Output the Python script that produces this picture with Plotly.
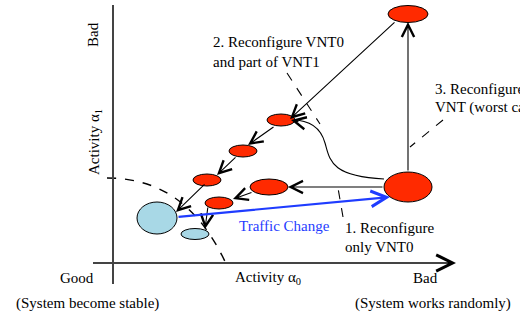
import plotly.graph_objects as go

# ---- diagram data (pixel-space coordinates of the schematic) ----
red_cx = [408, 408, 269, 219, 207, 243, 281]
red_cy = [14, 187, 187, 203, 180, 151, 120]
red_rx = [20, 24, 19, 14, 14, 14, 14]
red_ry = [8.5, 15, 8, 6, 6, 6, 6]

blue_cx = [157, 195]
blue_cy = [218, 234]
blue_rx = [20, 14]
blue_ry = [16, 5.5]

# solid black arrows: tail (x0,y0) -> head (x1,y1)
arr_x0 = [396, 408, 384, 253, 275, 237, 206, 208, 300]
arr_y0 = [21, 172, 187, 192, 126, 156, 183, 206, 122]
arr_x1 = [290, 408, 288, 233, 248, 217, 176, 205, 291]
arr_y1 = [119, 22, 187, 199, 145, 175, 212, 229, 120]

# dashed pointer arrows
dash_x0 = [287, 443, 343]
dash_y0 = [73, 120, 217]
dash_x1 = [320, 410, 338]
dash_y1 = [124, 147, 188]

# traffic change arrow
traffic_x = [177, 390]
traffic_y = [217, 197]

labels = ["2. Reconfigure VNT0", "and part of VNT1", "3. Reconfigure", "VNT (worst case)",
          "1. Reconfigure", "only VNT0", "Good", "(System become stable)",
          "Activity α<sub>0</sub>", "Bad", "(System works randomly)"]
label_x = [211, 211, 433, 433, 343, 343, 77, 87, 233, 425, 353]
label_y = [42, 62, 89, 107, 228, 247, 278, 303, 278, 278, 303]
label_anchor = ["left", "left", "left", "left", "left", "left", "center", "center", "left", "center", "left"]

FONT = "Times New Roman, Liberation Serif, serif"
FS = 15

fig = go.Figure()
fig.add_trace(go.Scatter(x=[0, 520], y=[0, 318], mode="markers", marker=dict(opacity=0), hoverinfo="skip", showlegend=False))

shapes = []
# boundary dashed curve
shapes.append(dict(type="path", path="M 107,178 C 160,178 200,205 228,268",
                   line=dict(color="black", width=1.4, dash="dash")))
# curved return path
shapes.append(dict(type="path", path="M 384,179 C 330,176 330,160 325,143 C 320,125 306,120 292,120",
                   line=dict(color="black", width=1.1)))
# axes
shapes.append(dict(type="line", x0=113, y0=284, x1=113, y1=5, line=dict(color="#444", width=2)))
shapes.append(dict(type="line", x0=93, y0=263, x1=453, y1=263, line=dict(color="#444", width=2)))
# dashed pointer lines
for a, b, c, d in zip(dash_x0, dash_y0, dash_x1, dash_y1):
    shapes.append(dict(type="line", x0=a, y0=b, x1=c, y1=d, line=dict(color="black", width=1.1, dash="dash")))
# ellipses
for cx, cy, rx, ry in zip(red_cx, red_cy, red_rx, red_ry):
    shapes.append(dict(type="circle", x0=cx - rx, x1=cx + rx, y0=cy - ry, y1=cy + ry,
                       fillcolor="#ff2a00", line=dict(color="black", width=1)))
for cx, cy, rx, ry in zip(blue_cx, blue_cy, blue_rx, blue_ry):
    shapes.append(dict(type="circle", x0=cx - rx, x1=cx + rx, y0=cy - ry, y1=cy + ry,
                       fillcolor="#a8d8e6", line=dict(color="black", width=1)))

ann = []
for a, b, c, d in zip(arr_x0, arr_y0, arr_x1, arr_y1):
    ann.append(dict(x=c, y=d, ax=a, ay=b, xref="x", yref="y", axref="x", ayref="y", text="",
                    showarrow=True, arrowhead=5, arrowsize=2.2, arrowwidth=1.1, arrowcolor="black"))
# dashed arrow heads
for a, b, c, d in zip(dash_x0, dash_y0, dash_x1, dash_y1):
    L = ((c - a) ** 2 + (d - b) ** 2) ** 0.5
    ann.append(dict(x=c, y=d, ax=c - (c - a) / L * 4, ay=d - (d - b) / L * 4, xref="x", yref="y",
                    axref="x", ayref="y", text="", showarrow=True, arrowhead=5, arrowsize=2.2,
                    arrowwidth=1.1, arrowcolor="black"))
# axes arrow heads
ann.append(dict(x=113, y=3, ax=113, ay=10, xref="x", yref="y", axref="x", ayref="y", text="",
                showarrow=True, arrowhead=5, arrowsize=1.6, arrowwidth=2, arrowcolor="black"))
ann.append(dict(x=456, y=263, ax=448, ay=263, xref="x", yref="y", axref="x", ayref="y", text="",
                showarrow=True, arrowhead=5, arrowsize=1.6, arrowwidth=2, arrowcolor="black"))
# traffic change
ann.append(dict(x=traffic_x[1], y=traffic_y[1], ax=traffic_x[0], ay=traffic_y[0], xref="x", yref="y",
                axref="x", ayref="y", text="", showarrow=True, arrowhead=5, arrowsize=1.4,
                arrowwidth=2.2, arrowcolor="#1f3cff"))
ann.append(dict(x=237, y=226, text="Traffic Change", showarrow=False, xanchor="left", yanchor="middle",
                font=dict(family=FONT, size=FS, color="#1f3cff")))

for t, x, y, an in zip(labels, label_x, label_y, label_anchor):
    ann.append(dict(x=x, y=y, text=t, showarrow=False, xanchor=an, yanchor="middle",
                    font=dict(family=FONT, size=FS, color="black")))
# rotated y-axis labels
ann.append(dict(x=93, y=35, text="Bad", textangle=-90, showarrow=False, xanchor="center", yanchor="middle",
                font=dict(family=FONT, size=FS, color="black")))
ann.append(dict(x=95, y=142, text="Activity α<sub>1</sub>", textangle=-90, showarrow=False,
                xanchor="center", yanchor="middle", font=dict(family=FONT, size=FS, color="black")))

fig.update_layout(
    width=520, height=318, margin=dict(l=0, r=0, t=0, b=0),
    paper_bgcolor="white", plot_bgcolor="white",
    xaxis=dict(range=[0, 520], visible=False, fixedrange=True),
    yaxis=dict(range=[318, 0], visible=False, fixedrange=True),
    shapes=shapes, annotations=ann, showlegend=False,
)
fig.write_html("out.html", config={"staticPlot": True},
               post_script="document.body.style.margin='0';document.body.style.overflow='hidden';")
